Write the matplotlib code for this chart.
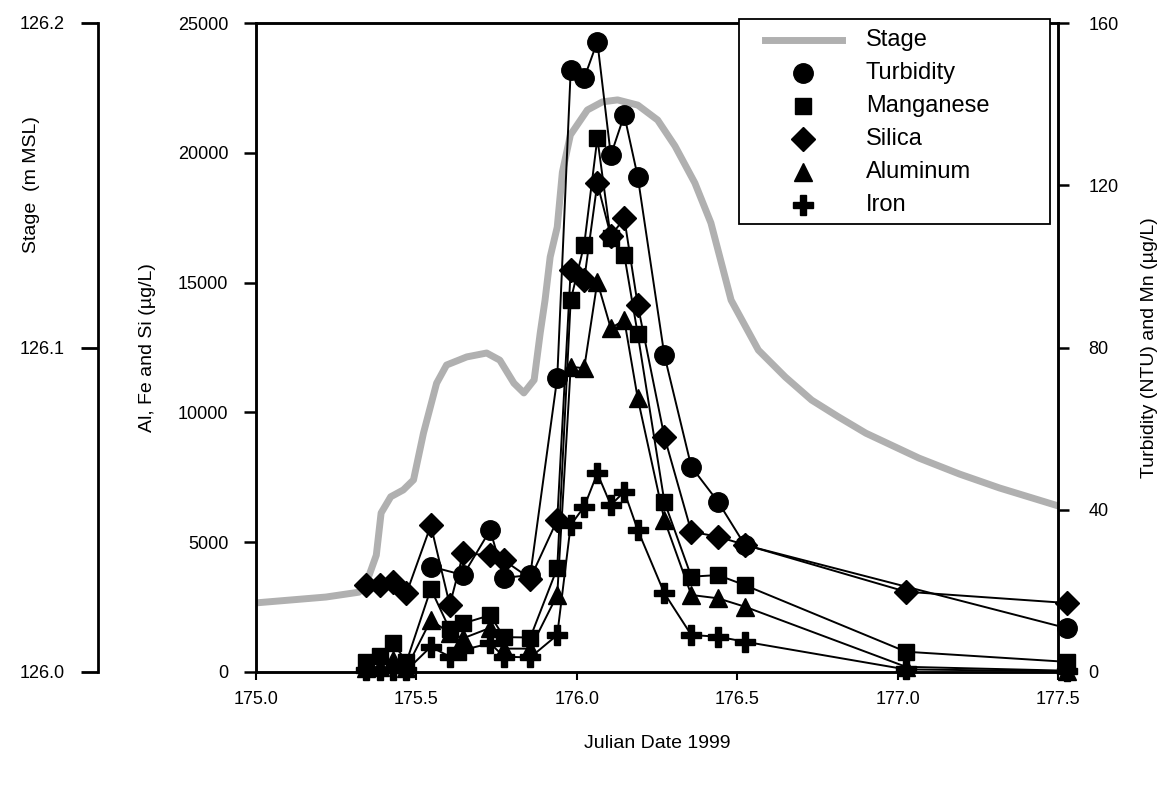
import numpy as np
import matplotlib
matplotlib.use("Agg")
import matplotlib.pyplot as plt
from matplotlib.lines import Line2D
from matplotlib.patches import Rectangle

plt.rcParams['font.family'] = ['Liberation Sans', 'DejaVu Sans']

# ---------------- data ----------------
sample_time = [175.343, 175.385, 175.427, 175.469, 175.545, 175.604, 175.646, 175.730,
               175.773, 175.855, 175.939, 175.981, 176.023, 176.064, 176.106, 176.148,
               176.190, 176.273, 176.357, 176.440, 176.524, 177.026, 177.528]
turbidity = [None, None, None, None, 26, None, 23.9, 35, 23.2, 23.9, 72.5, 148.4, 146.4,
             155.4, 127.4, 137.3, 122.1, 78.1, 50.6, 42.0, 31.3, None, 10.8]
manganese = [2.5, 4.0, 7.2, 2.5, 20.5, 10.5, 12, 14, 8.6, 8.5, 25.6, 91.7, 105.3,
             131.6, 107, 102.8, 83.3, 42, 23.5, 23.9, 21.4, 5.0, 2.5]
silica = [3350, 3350, 3480, 3030, 5650, 2580, 4570, 4500, 4300, 3600, 5855, 15485, 15100,
          18826, 16800, 17477, 14137, 9064, 5404, 5212, 4900, 3093, 2658]
aluminum = [150, 200, 450, 150, 2000, 1500, 1300, 1700, 900, 900, 2966, 11760, 11700,
            15033, 13240, 13560, 10540, 5855, 2966, 2839, 2515, 200, 50]
iron = [60, 60, 80, 60, 975, 590, 850, 1105, 590, 560, 1425, 5662, 6367, 7654, 6433,
        6945, 5470, 3032, 1425, 1360, 1167, 100, 30]

stage_time = [175.0, 175.218, 175.321, 175.353, 175.375, 175.390, 175.420, 175.459,
              175.491, 175.522, 175.563, 175.594, 175.657, 175.719, 175.760, 175.804,
              175.835, 175.867, 175.886, 175.901, 175.917, 175.939, 175.955, 175.980,
              176.033, 176.080, 176.127, 176.190, 176.252, 176.306, 176.368, 176.418,
              176.481, 176.566, 176.650, 176.732, 176.816, 176.901, 177.067, 177.193,
              177.318, 177.5]
stage_value = [126.0213, 126.0231, 126.0246, 126.0299, 126.0360, 126.0490, 126.0540,
               126.0561, 126.0592, 126.0736, 126.0890, 126.0946, 126.0971, 126.0983,
               126.0961, 126.0890, 126.0860, 126.0900, 126.1045, 126.1146, 126.1279,
               126.1371, 126.1540, 126.1655, 126.1732, 126.1757, 126.1763, 126.1747,
               126.1701, 126.1621, 126.1507, 126.1384, 126.1146, 126.0992, 126.0909,
               126.0838, 126.0786, 126.0736, 126.0659, 126.0610, 126.0567, 126.0512]

x_ticks = [175.0, 175.5, 176.0, 176.5, 177.0, 177.5]
left_ticks = [0, 5000, 10000, 15000, 20000, 25000]
right_ticks = [0, 40, 80, 120, 160]
stage_ticks = [126.0, 126.1, 126.2]
legend_labels = ['Stage', 'Turbidity', 'Manganese', 'Silica', 'Aluminum', 'Iron']

# ---------------- figure ----------------
W, H = 1168, 787
fig = plt.figure(figsize=(W / 100, H / 100), dpi=100)
L, R, T, B = 256, 1058, 23, 672
ax = fig.add_axes([L / W, (H - B) / H, (R - L) / W, (B - T) / H])
ax_s = ax.twinx()
ax_r = ax.twinx()

ax_s.set_zorder(0)
ax.set_zorder(1)
ax_r.set_zorder(2)
ax.patch.set_visible(False)
ax_r.patch.set_visible(False)
ax_s.patch.set_facecolor('white')

t = np.array(sample_time, dtype=float)


def series(vals):
    v = np.array([np.nan if a is None else a for a in vals], dtype=float)
    m = ~np.isnan(v)
    return t[m], v[m]


STAGE_COLOR = '#b0b0b0'
line_kw = dict(color='black', lw=1.4, clip_on=False)
mk = dict(markerfacecolor='black', markeredgecolor='black')
styles = {
    'Turbidity': dict(marker='o', ms=14),
    'Manganese': dict(marker='s', ms=11.5),
    'Silica': dict(marker='D', ms=12),
    'Aluminum': dict(marker='^', ms=12.5),
    'Iron': dict(marker='P', ms=14),
}

# stage
ax_s.plot(stage_time, stage_value, color=STAGE_COLOR, lw=5, solid_capstyle='round',
          solid_joinstyle='round', zorder=1)

# left axis series
xs, ys = series(silica)
ax.plot(xs, ys, **styles['Silica'], **line_kw, **mk)
xs, ys = series(aluminum)
ax.plot(xs, ys, **styles['Aluminum'], **line_kw, **mk)
xs, ys = series(iron)
ax.plot(xs, ys, **styles['Iron'], **line_kw, **mk)

# right axis series
xs, ys = series(turbidity)
ax_r.plot(xs, ys, **styles['Turbidity'], **line_kw, **mk)
xs, ys = series(manganese)
ax_r.plot(xs, ys, **styles['Manganese'], **line_kw, **mk)

# limits & ticks
ax.set_xlim(175.0, 177.5)
ax.set_ylim(0, 25000)
ax_r.set_ylim(0, 160)
ax_s.set_ylim(126.0, 126.2)

ax.set_xticks(x_ticks)
ax.set_xticklabels([f"{v:.1f}" for v in x_ticks])
ax.set_yticks(left_ticks)
ax.set_yticklabels([str(v) for v in left_ticks])
ax_r.set_yticks(right_ticks)
ax_r.set_yticklabels([str(v) for v in right_ticks])
ax_s.set_yticks(stage_ticks)
ax_s.set_yticklabels([f"{v:.1f}" for v in stage_ticks])

fs = 13
ax.tick_params(axis='x', direction='out', length=6, width=1.5, labelsize=fs, pad=8)
ax.tick_params(axis='y', direction='out', length=9, width=1.8, labelsize=fs, pad=11)
ax_r.tick_params(axis='y', direction='out', length=8, width=1.8, labelsize=fs, pad=14)

# stage axis on far left
ax_s.spines['left'].set_position(('axes', (98 - L) / (R - L)))
ax_s.spines['left'].set_visible(True)
ax_s.spines['left'].set_linewidth(2)
for s in ['right', 'top', 'bottom']:
    ax_s.spines[s].set_visible(False)
ax_s.yaxis.set_ticks_position('left')
ax_s.yaxis.set_label_position('left')
ax_s.tick_params(axis='y', direction='out', length=12, width=2, labelsize=fs, pad=12)

for s in ['left', 'right', 'top', 'bottom']:
    ax.spines[s].set_linewidth(1.8)
    ax_r.spines[s].set_linewidth(1.8)

ax.set_xlabel('Julian Date 1999', fontsize=14)
ax.xaxis.set_label_coords(0.5, (B - 735) / (B - T))
ax.set_ylabel('Al, Fe and Si (µg/L)', fontsize=14)
ax.yaxis.set_label_coords((156 - L) / (R - L), 0.5)
ax_r.set_ylabel('Turbidity (NTU) and Mn (µg/L)', fontsize=14)
ax_r.yaxis.set_label_coords((1141 - L) / (R - L), 0.5)
ax_s.set_ylabel('Stage  (m MSL)', fontsize=14)
ax_s.yaxis.set_label_coords((40 - L) / (R - L), (B - 185) / (B - T))


# legend (drawn as a boxed key in axes coordinates)
def fx(px):
    return (px - L) / (R - L)


def fy(py):
    return (B - py) / (B - T)


tr = ax_r.transAxes
box = Rectangle((fx(739), fy(224)), fx(1050) - fx(739), fy(19) - fy(224),
                transform=tr, facecolor='white', edgecolor='black', lw=1.3,
                zorder=10, clip_on=False)
ax_r.add_patch(box)
row_y = [40, 73, 106, 139, 172, 205]
for lab, py in zip(legend_labels, row_y):
    if lab == 'Stage':
        ax_r.add_line(Line2D([fx(765), fx(842)], [fy(py), fy(py)], transform=tr,
                             color=STAGE_COLOR, lw=5, zorder=11, clip_on=False))
    else:
        ax_r.add_line(Line2D([fx(803)], [fy(py)], transform=tr, ls='none',
                             zorder=11, clip_on=False, **styles[lab], **mk))
    ax_r.text(fx(866), fy(py), lab, transform=tr, fontsize=17, va='center',
              ha='left', zorder=12)

fig.savefig('out.png', dpi=100)
